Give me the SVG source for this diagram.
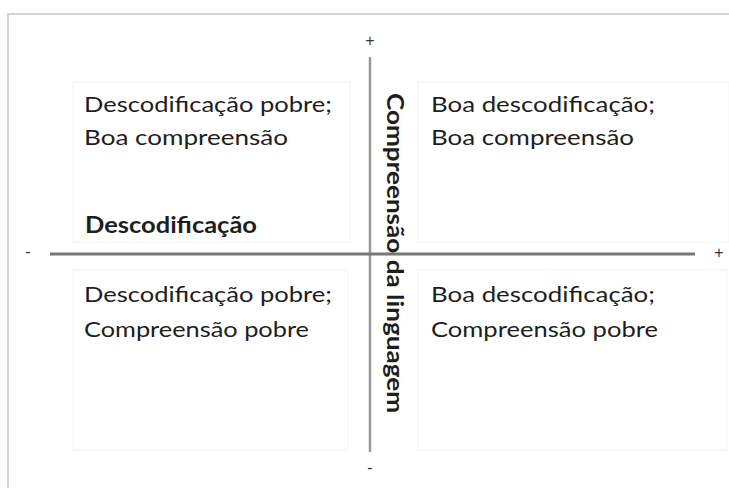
<svg xmlns="http://www.w3.org/2000/svg" width="729" height="488" viewBox="0 0 729 488">
<style>
.lbl{font-family:Lato,"Liberation Sans",sans-serif;font-size:22px;fill:#1e1e1e}
.bold{font-weight:bold}
.sign{font-family:"Liberation Sans",sans-serif;font-size:16px;fill:#333;text-anchor:middle}
.box{fill:none;stroke:#f3f3f3;stroke-width:1}
</style>
<rect width="729" height="488" fill="#fff"/>
<path d="M8,488 V14 H729" fill="none" stroke="#d4d4d4" stroke-width="2"/>
<g id="quadrants">
<rect class="box" x="73" y="82" width="277" height="160"/>
<rect class="box" x="418" y="82" width="311" height="160"/>
<rect class="box" x="73" y="270" width="275" height="180"/>
<rect class="box" x="418" y="270" width="309" height="180"/>
</g>
<g id="connectors">
<line x1="370" y1="57" x2="370" y2="452" stroke="#999" stroke-width="2.5"/>
<line x1="50" y1="254" x2="695" y2="254" stroke="#777" stroke-width="3"/>
</g>
<g id="signs">
<text class="sign" x="370" y="46">+</text>
<text class="sign" x="370" y="473">-</text>
<text class="sign" x="28" y="257">-</text>
<text class="sign" x="719" y="258">+</text>
</g>
<g id="tl">
<text class="lbl" x="84" y="112" textLength="248" lengthAdjust="spacingAndGlyphs">Descodificação pobre;</text>
<text class="lbl" x="84" y="145" textLength="204" lengthAdjust="spacingAndGlyphs">Boa compreensão</text>
</g>
<g id="tr">
<text class="lbl" x="431" y="112" textLength="224" lengthAdjust="spacingAndGlyphs">Boa descodificação;</text>
<text class="lbl" x="431" y="145" textLength="203" lengthAdjust="spacingAndGlyphs">Boa compreensão</text>
</g>
<g id="bl">
<text class="lbl" x="84" y="302" textLength="248" lengthAdjust="spacingAndGlyphs">Descodificação pobre;</text>
<text class="lbl" x="84" y="337" textLength="225" lengthAdjust="spacingAndGlyphs">Compreensão pobre</text>
</g>
<g id="br">
<text class="lbl" x="431" y="302" textLength="224" lengthAdjust="spacingAndGlyphs">Boa descodificação;</text>
<text class="lbl" x="431" y="337" textLength="227" lengthAdjust="spacingAndGlyphs">Compreensão pobre</text>
</g>
<g id="x-axis-label">
<text class="lbl bold" x="85" y="233" textLength="172" lengthAdjust="spacingAndGlyphs">Descodificação</text>
</g>
<g id="y-axis-label">
<text class="lbl bold" transform="translate(387,93) rotate(90)" x="0" y="0" textLength="320" lengthAdjust="spacingAndGlyphs">Compreensão da linguagem</text>
</g>
</svg>
